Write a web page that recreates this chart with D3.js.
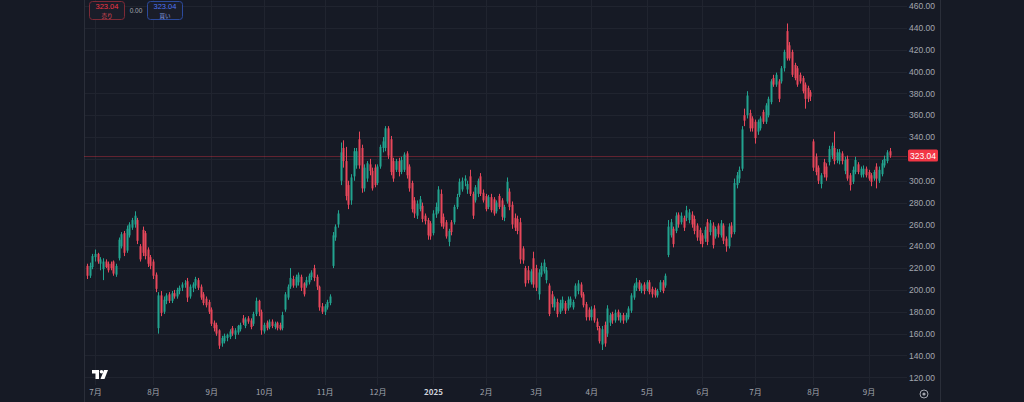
<!DOCTYPE html>
<html><head><meta charset="utf-8">
<script src="https://cdn.jsdelivr.net/npm/d3@7"></script>
<style>
html,body{margin:0;padding:0;background:#161a25;overflow:hidden;}
svg{display:block;}
text{font-family:"Noto Sans CJK JP","Noto Sans",sans-serif;}
</style></head><body>
<svg id="c" width="1024" height="402"></svg>
<script>
// Daily candles (index 0 = first bar shown)
const opens=[
222,213,221,230,233,224,219,226,224,224,
226,214,229,240,252,236,250,257,260,264,
240,255,252,237,230,226,214,165,195,180,
190,196,190,197,194,199,202,205,208,194,
202,204,209,203,196,192,189,182,170,168,
163,151,153,156,157,165,159,161,164,174,
167,174,172,169,178,190,180,162,170,166,
171,166,170,168,165,182,193,203,210,204,
207,212,206,204,207,212,220,212,203,185,
180,184,188,222,248,260,300,330,318,296,
282,304,314,338,330,293,302,315,309,312,
298,313,330,330,348,338,318,310,318,308,
310,325,313,298,282,268,274,277,268,264,
261,252,269,272,288,267,262,244,262,262,
276,287,292,300,292,304,288,282,288,304,
289,286,276,285,283,272,286,282,266,281,
290,278,266,265,262,238,220,218,207,229,
220,196,214,217,209,204,196,184,189,180,
183,188,183,186,184,194,199,205,196,187,
182,175,183,171,165,150,168,160,170,178,
172,180,172,177,172,175,181,193,202,207,
199,205,201,207,201,200,195,200,207,204,
232,250,256,254,269,262,266,266,264,269,
265,259,255,250,247,262,253,259,249,259,
250,259,247,240,259,253,296,302,311,360,
360,362,357,354,345,348,363,354,360,372,
394,388,391,391,403,437,424,418,406,403,
397,394,388,385,381,336,322,312,297,317,
313,317,323,330,319,318,325,309,320,305,
299,308,315,305,306,311,308,305,302,313,
300,306,314,318,327];
const highs=[
224,225,233,237,234,230,229,228,226,226,
227,224,248,253,254,259,262,266,272,266,
242,258,254,239,232,228,216,198,199,194,
197,198,199,200,202,204,207,209,211,205,
207,212,211,205,198,194,191,184,172,170,
164,158,160,160,164,167,165,168,170,177,
175,176,174,180,193,191,182,170,172,173,
173,171,171,170,180,198,205,220,213,214,
216,214,207,212,215,218,223,214,204,188,
187,191,196,253,260,273,335,337,331,300,
306,330,330,345,333,315,318,320,312,315,
315,333,340,350,350,341,321,320,321,322,
326,327,315,300,285,282,286,280,270,266,
263,273,280,295,292,270,264,256,264,278,
288,302,303,305,300,310,290,296,302,307,
292,288,287,288,285,282,288,284,278,303,
293,281,270,268,266,240,222,222,219,235,
223,219,225,228,221,206,199,194,192,191,
194,190,194,194,191,206,209,207,198,189,
184,185,186,174,167,167,171,186,179,180,
182,182,179,179,179,185,197,206,211,209,
206,207,209,209,203,202,201,209,209,215,
264,265,258,271,271,271,268,277,274,272,
268,261,257,252,258,265,264,262,258,261,
264,261,249,261,262,302,308,313,350,366,
382,365,359,356,356,359,365,371,377,393,
397,399,393,405,420,444,427,420,408,405,
399,396,390,387,383,338,325,314,307,320,
316,332,335,345,329,329,327,322,323,307,
313,322,317,313,314,313,310,307,310,316,
313,319,323,328,330];
const lows=[
210,211,219,226,224,218,209,220,216,218,
213,212,227,238,231,234,248,255,257,242,
226,231,228,221,219,210,198,160,176,178,
187,188,188,192,192,196,199,202,189,192,
198,201,200,191,186,184,178,167,162,158,
146,148,151,153,155,158,155,159,162,168,
165,169,164,167,176,176,159,160,163,164,
165,164,163,163,163,180,191,201,202,202,
204,199,194,202,205,209,208,200,181,178,
177,182,186,220,245,257,296,312,282,274,
278,300,311,311,289,290,299,305,291,294,
296,311,326,327,320,305,299,308,304,306,
308,302,290,271,266,265,272,262,260,246,
246,250,266,270,258,256,247,240,250,260,
274,285,290,295,288,286,265,280,285,286,
280,272,274,271,268,270,274,264,263,279,
273,256,254,251,224,224,203,206,205,202,
199,191,212,215,206,176,184,181,175,178,
181,178,181,184,182,192,196,193,184,172,
172,172,170,163,151,145,148,157,167,169,
170,172,170,169,170,173,179,191,199,199,
197,196,199,196,193,193,193,198,197,202,
230,248,239,252,257,260,254,263,261,257,
251,245,242,239,244,241,250,238,247,248,
248,242,235,238,248,251,293,298,309,350,
357,345,345,334,342,346,352,352,358,370,
386,386,372,389,400,410,410,395,392,386,
389,380,366,372,373,309,305,297,293,303,
300,314,320,315,316,315,315,306,300,291,
297,306,306,303,303,303,300,295,300,293,
298,304,312,316,321];
const closes=[
213,222,231,233,226,228,226,221,218,220,
215,222,246,251,234,256,260,264,268,245,
228,234,231,224,222,213,201,195,179,191,
195,190,197,194,200,202,205,206,193,203,
205,210,202,193,188,186,180,169,165,160,
149,156,158,159,162,160,163,167,168,170,
173,171,166,178,190,180,163,168,165,171,
167,169,165,164,177,196,203,211,204,212,
214,202,196,209,213,216,211,203,184,180,
185,189,194,250,258,270,326,318,286,278,
303,327,327,314,293,312,316,309,293,296,
313,331,336,348,323,308,302,318,308,319,
324,305,293,274,270,279,283,265,263,250,
249,270,276,292,261,258,249,254,253,276,
285,299,300,302,297,288,268,294,300,288,
282,274,285,273,270,280,276,267,276,299,
276,260,257,254,228,227,206,209,217,205,
202,216,222,225,218,178,187,192,178,188,
191,181,191,192,189,204,206,195,186,175,
175,182,172,166,153,164,151,183,177,172,
179,175,177,172,177,183,195,204,207,201,
204,199,207,198,196,195,199,207,199,213,
258,262,242,268,260,268,257,273,271,260,
254,248,245,242,255,244,261,241,256,251,
261,245,240,258,251,298,305,310,347,355,
378,348,348,339,354,357,354,369,375,391,
388,397,375,403,418,412,412,397,394,388,
391,382,375,375,377,312,308,300,305,306,
303,329,332,318,326,326,318,319,302,296,
310,319,308,311,311,305,302,299,308,302,
310,316,320,326,323.04];

const monthLabels=["7月","8月","9月","10月","11月","12月","2025","2月","3月","4月","5月","6月","7月","8月","9月"];
const monthIndex=[3,25,47,67,90,110,131,151,170,191,212,233,253,275,296];
const priceTicks=[120,140,160,180,200,220,240,260,280,300,320,340,360,380,400,420,440,460];
const lastPrice=323.04;
const spreadText="0.00";

const W=1024,H=402;
const plotL=84, plotR=907, axisR=940, timeY=385;
const bg="#161a25", grid="#20242f", border="#2a2e39";
const up="#22a38f", down="#e8475b";
const axisFont="'Liberation Sans','DejaVu Sans',sans-serif";

const svg=d3.select("#c");
svg.append("rect").attr("width",W).attr("height",H).attr("fill",bg);

const x=d3.scaleLinear().domain([3,296]).range([95,868.5]);
const y=d3.scaleLinear().domain([120,460]).range([377.3,6]);

// grid
const g=svg.append("g");
g.selectAll(".hg").data(priceTicks).join("line")
  .attr("x1",plotL).attr("x2",plotR)
  .attr("y1",d=>Math.round(y(d))+0.5).attr("y2",d=>Math.round(y(d))+0.5)
  .attr("stroke",grid).attr("stroke-width",1);
g.selectAll(".vg").data(monthIndex).join("line")
  .attr("x1",d=>Math.round(x(d))+0.5).attr("x2",d=>Math.round(x(d))+0.5)
  .attr("y1",0).attr("y2",timeY)
  .attr("stroke",grid).attr("stroke-width",1);

// borders
svg.append("line").attr("x1",plotL+0.5).attr("x2",plotL+0.5).attr("y1",0).attr("y2",H).attr("stroke",border);
svg.append("line").attr("x1",axisR+0.5).attr("x2",axisR+0.5).attr("y1",0).attr("y2",H).attr("stroke",border);

// last price line
svg.append("line").attr("x1",plotL).attr("x2",plotR)
  .attr("y1",Math.round(y(lastPrice))+0.5).attr("y2",Math.round(y(lastPrice))+0.5)
  .attr("stroke","#f23645").attr("stroke-opacity",0.35).attr("stroke-width",1);

// candles
const idx=d3.range(opens.length);
const cg=svg.append("g");
cg.selectAll(".wick").data(idx).join("rect")
  .attr("x",i=>Math.round(x(i)))
  .attr("y",i=>y(highs[i]))
  .attr("width",1)
  .attr("height",i=>Math.max(1,y(lows[i])-y(highs[i])))
  .attr("fill",i=>closes[i]>=opens[i]?up:down);
cg.selectAll(".body").data(idx).join("rect")
  .attr("x",i=>Math.round(x(i))-0.5)
  .attr("y",i=>y(Math.max(opens[i],closes[i])))
  .attr("width",2)
  .attr("height",i=>Math.max(1,Math.abs(y(opens[i])-y(closes[i]))))
  .attr("fill",i=>closes[i]>=opens[i]?up:down);

// price axis (labels hidden where the last-price label covers them)
const ly=y(lastPrice);
const visibleTicks=priceTicks.filter(p=>Math.abs(y(p)-ly)>10);
const ya=d3.axisRight(y).tickValues(visibleTicks).tickFormat(d3.format(".2f")).tickSize(0).tickPadding(0);
const yg=svg.append("g").attr("transform",`translate(${axisR-5},0)`).call(ya);
yg.select(".domain").remove();
yg.selectAll("text").attr("text-anchor","end").attr("fill","#a3a6af")
  .style("font-size","8.5px").style("font-family",axisFont);

// last price label
svg.append("rect").attr("x",908).attr("y",ly-6).attr("width",30).attr("height",12).attr("rx",1.5).attr("fill","#f23645");
svg.append("text").attr("x",923).attr("y",ly+3).attr("text-anchor","middle").attr("fill","#ffffff")
  .style("font-size","8.5px").style("font-family",axisFont).text(d3.format(".2f")(lastPrice));

// time axis
const xa=d3.axisBottom(x).tickValues(monthIndex).tickFormat((d,i)=>monthLabels[i]).tickSize(0).tickPadding(0);
const xg=svg.append("g").attr("transform","translate(0,389)").call(xa);
xg.select(".domain").remove();
xg.selectAll("text").style("font-size","8px")
  .attr("font-weight",(d,i)=>monthLabels[i]==="2025"?"bold":"normal")
  .attr("fill",(d,i)=>monthLabels[i]==="2025"?"#d1d4dc":"#a3a6af");

// settings icon
const gear=svg.append("g").attr("transform","translate(924,394)");
gear.append("circle").attr("r",4).attr("fill","none").attr("stroke","#a3a6af").attr("stroke-width",1);
gear.append("circle").attr("r",1.6).attr("fill","#a3a6af");

// TradingView logo
const logo=svg.append("g").attr("transform","translate(92,370)").attr("fill","#ffffff");
logo.append("rect").attr("x",0).attr("y",0).attr("width",7).attr("height",3.5);
logo.append("rect").attr("x",3.5).attr("y",0).attr("width",3.5).attr("height",9);
logo.append("circle").attr("cx",9.5).attr("cy",1.8).attr("r",1.8);
logo.append("path").attr("d","M12,0 L16,0 L12.5,9 L8.5,9 Z");

// buy/sell buttons
function btn(x0,stroke,c1,c2,label){
  const b=svg.append("g");
  b.append("rect").attr("x",x0+0.5).attr("y",1.5).attr("width",35).attr("height",18).attr("rx",3)
    .attr("fill","#1a1d29").attr("stroke",stroke).attr("stroke-width",1);
  b.append("text").attr("x",x0+18).attr("y",9).attr("text-anchor","middle").attr("fill",c1)
    .style("font-size","7.5px").style("font-family",axisFont).text(d3.format(".2f")(lastPrice));
  b.append("text").attr("x",x0+18).attr("y",17.5).attr("text-anchor","middle").attr("fill",c2)
    .style("font-size","5.5px").text(label);
}
btn(89,"#7e2a36","#f23645","#e8505e","売り");
btn(147,"#2c4a9c","#4f74f0","#8fa3e8","買い");
svg.append("text").attr("x",136).attr("y",13).attr("text-anchor","middle").attr("fill","#a3a6af")
  .style("font-size","6.5px").style("font-family",axisFont).text(spreadText);
</script>
</body></html>
